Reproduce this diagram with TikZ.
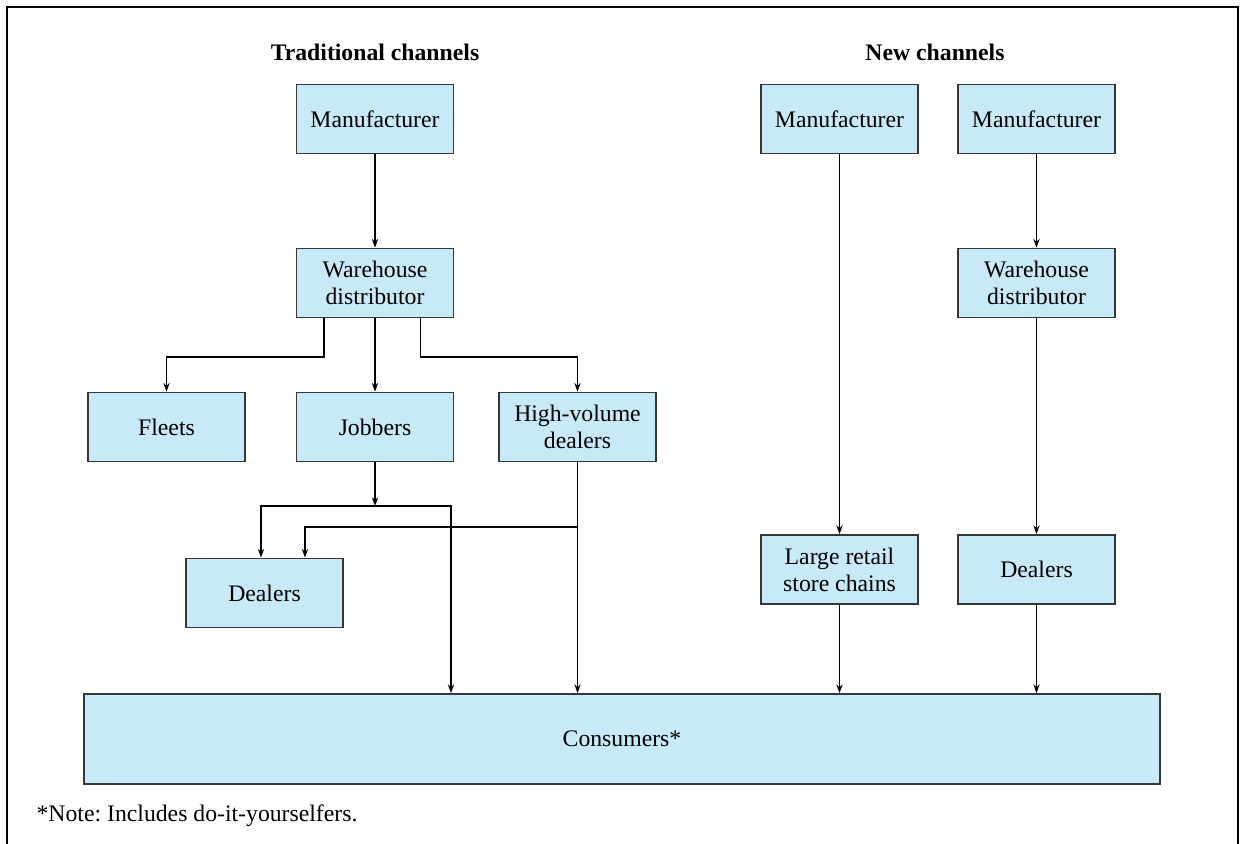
\documentclass[tikz,border=0pt]{standalone}
\usepackage{fontspec}
\setmainfont{Liberation Serif}
\usepackage{tikz}
\usetikzlibrary{arrows.meta}

\definecolor{boxblue}{RGB}{200,233,248}
\definecolor{boxline}{RGB}{55,55,55}

\begin{document}
\frenchspacing
\begin{tikzpicture}
            [>={Stealth[length=5pt, width=3.6pt]}, line width=0.7pt, font=\fontsize{13.5}{15.5}\selectfont,
             box/.style={shape=rectangle, draw=boxline, line width=1pt, fill=boxblue,
                         minimum width=3.14cm, minimum height=1.38cm, inner sep=0pt, align=center},
             heading/.style={font=\fontsize{13.5}{15.5}\selectfont\bfseries}]
            \useasboundingbox (0, 0) rectangle (24.84, -16.88);
            % open frame, no bottom edge
            \draw[line width=1.4pt] (0.14, -16.88) -- (0.14, -0.14) -- (24.76, -0.14) -- (24.76, -16.88);

            \node[heading] (tradtitle) at (7.5, -1.04) {Traditional channels};
            \node[heading] (newtitle) at (18.7, -1.04) {New channels};

            % traditional channels
            \node[box] (tman) at (7.5, -2.38) {Manufacturer};
            \node[box] (twh) at (7.5, -5.66) {Warehouse\\distributor};
            \node[box] (fleets) at (3.33, -8.54) {Fleets};
            \node[box] (jobbers) at (7.5, -8.54) {Jobbers};
            \node[box] (hvd) at (11.55, -8.54) {High-volume\\dealers};
            \node[box] (tdeal) at (5.29, -11.86) {Dealers};

            % new channels
            \node[box] (nman1) at (16.79, -2.38) {Manufacturer};
            \node[box] (nman2) at (20.73, -2.38) {Manufacturer};
            \node[box] (nwh) at (20.73, -5.66) {Warehouse\\distributor};
            \node[box] (retail) at (16.79, -11.39) {Large retail\\store chains};
            \node[box] (ndeal) at (20.73, -11.39) {Dealers};

            \node[box, minimum width=21.52cm, minimum height=1.8cm] (cons) at (12.44, -14.78) {Consumers*};
            \node[anchor=west, inner sep=0pt] (note) at (0.72, -16.32) {*Note: Includes do-it-yourselfers.};

            \coordinate (fsplit) at (3.33, -7.14);
            \coordinate (hsplit) at (11.55, -7.14);
            \coordinate (jsplit) at (7.5, -10.12);
            \coordinate (jdrop) at (9.02, -10.12);
            \coordinate (vsplit) at (11.55, -10.54);

            \draw[->] (tman) -- (twh);
            \draw[->] ([xshift=-1.02cm]twh.south) |- (fsplit) -- (fleets.north);
            \draw[->] (twh) -- (jobbers);
            \draw[->] ([xshift=0.91cm]twh.south) |- (hsplit) -- (hvd.north);
            \draw[->] (jobbers) -- (jsplit);
            \draw[->] (jsplit) -| ([xshift=-0.07cm]tdeal.north);
            \draw[->] (jsplit) -- (jdrop) -- (jdrop |- cons.north);
            \draw[->] (hvd) -- (hvd.south |- cons.north);
            \draw[->] (vsplit) -| ([xshift=0.81cm]tdeal.north);

            \draw[->] (nman1) -- (retail);
            \draw[->] (nman2) -- (nwh);
            \draw[->] (nwh) -- (ndeal);
            \draw[->] (retail) -- (retail.south |- cons.north);
            \draw[->] (ndeal) -- (ndeal.south |- cons.north);
        \end{tikzpicture}
\end{document}
